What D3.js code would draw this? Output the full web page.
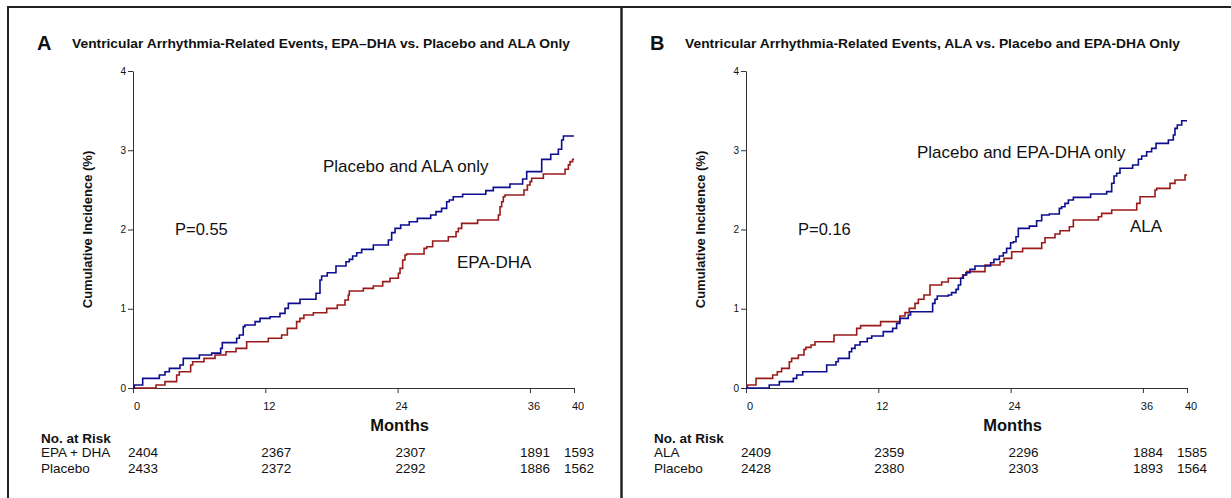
<!DOCTYPE html>
<html><head><meta charset="utf-8">
<script src="https://cdn.jsdelivr.net/npm/d3@7"></script>
<style>
body{margin:0;background:#fff;}
svg{display:block;font-family:"Liberation Sans",Arial,sans-serif;}
</style></head>
<body><svg id="c" width="1231" height="498"></svg>
<script>
// ---------- DATA ----------
const monthTicks = [0, 12, 24, 36, 40];
const incidenceTicks = [0, 1, 2, 3, 4];
const panelLetters = ["A", "B"];
const panelTitles = [
  "Ventricular Arrhythmia-Related Events, EPA\u2013DHA vs. Placebo and ALA Only",
  "Ventricular Arrhythmia-Related Events, ALA vs. Placebo and EPA-DHA Only"
];
const pValues = ["P=0.55", "P=0.16"];
const blueLabels = ["Placebo and ALA only", "Placebo and EPA-DHA only"];
const redLabels = ["EPA-DHA", "ALA"];
const riskGroupsA = ["EPA + DHA", "Placebo"];
const riskGroupsB = ["ALA", "Placebo"];
const riskA_treat = [2404, 2367, 2307, 1891, 1593];
const riskA_plac  = [2433, 2372, 2292, 1886, 1562];
const riskB_treat = [2409, 2359, 2296, 1884, 1585];
const riskB_plac  = [2428, 2380, 2303, 1893, 1564];

// Panel A: placebo and ALA only (blue)
const curveA_placebo = [[0,0],[0.12,0.038],[0.88,0.122],[2.39,0.164],[2.9,0.206],[3.3,0.248],[4.26,0.29],[4.56,0.374],[6.02,0.416],[7.14,0.44],[7.95,0.5],[8.1,0.572],[9.4,0.627],[9.65,0.669],[10.0,0.774],[10.16,0.795],[11.07,0.837],[11.52,0.879],[12.43,0.9],[13.33,0.942],[13.79,1.005],[14.09,1.068],[15.15,1.119],[16.6,1.195],[16.96,1.363],[17.11,1.413],[17.62,1.455],[18.41,1.539],[19.32,1.594],[19.62,1.623],[19.92,1.665],[20.29,1.707],[20.74,1.749],[21.8,1.805],[23.16,1.867],[23.46,1.96],[23.77,2.014],[24.28,2.056],[25.06,2.098],[25.79,2.14],[27.0,2.183],[27.48,2.225],[27.99,2.267],[28.45,2.351],[28.69,2.372],[29.05,2.414],[29.9,2.444],[32.0,2.49],[32.68,2.532],[34.19,2.574],[35.34,2.637],[35.71,2.73],[37.07,2.885],[37.89,2.949],[38.58,3.012],[38.88,3.13],[39.04,3.18],[40.0,3.18]];
// Panel A: EPA-DHA (red)
const curveA_treat = [[0,0],[2.09,0.038],[2.9,0.08],[3.96,0.164],[4.2,0.206],[5.23,0.29],[5.41,0.332],[6.44,0.374],[7.44,0.416],[8.43,0.458],[9.34,0.5],[10.31,0.584],[12.27,0.627],[13.48,0.669],[14.0,0.753],[14.84,0.837],[15.14,0.879],[15.5,0.921],[16.36,0.95],[17.57,1.005],[18.53,1.047],[19.23,1.11],[19.53,1.173],[19.62,1.224],[20.89,1.257],[21.8,1.287],[22.65,1.342],[23.31,1.384],[24.07,1.447],[24.22,1.51],[24.46,1.615],[24.67,1.678],[24.82,1.69],[26.4,1.762],[26.64,1.783],[27.18,1.854],[28.6,1.909],[29.3,1.972],[29.51,2.014],[29.81,2.077],[31.26,2.119],[33.14,2.183],[33.29,2.288],[33.44,2.351],[33.59,2.414],[33.74,2.435],[35.46,2.498],[35.77,2.561],[36.01,2.604],[36.16,2.646],[37.22,2.701],[39.19,2.76],[39.49,2.815],[39.64,2.857],[39.88,2.886],[40.0,2.886]];
// Panel B: placebo and EPA-DHA only (blue)
const curveB_placebo = [[0,0],[2.11,0.038],[3.02,0.08],[4.29,0.122],[4.6,0.164],[5.14,0.206],[7.32,0.29],[8.16,0.332],[8.37,0.374],[9.37,0.458],[9.58,0.5],[9.89,0.542],[10.34,0.584],[11.0,0.627],[11.4,0.656],[12.45,0.711],[13.3,0.753],[13.66,0.816],[13.96,0.879],[14.72,0.921],[14.93,0.963],[16.93,1.068],[17.14,1.119],[17.35,1.161],[18.35,1.174],[18.65,1.203],[19.05,1.245],[19.26,1.3],[19.47,1.384],[19.71,1.426],[19.95,1.455],[20.32,1.497],[20.77,1.539],[22.19,1.581],[22.49,1.623],[22.98,1.665],[23.34,1.707],[23.64,1.762],[24.0,1.833],[24.25,1.846],[24.49,1.909],[24.7,2.014],[25.7,2.043],[26.36,2.111],[26.82,2.183],[27.51,2.195],[28.42,2.267],[28.63,2.288],[28.93,2.33],[29.24,2.372],[29.69,2.406],[31.26,2.448],[32.71,2.478],[33.17,2.583],[33.38,2.675],[33.62,2.709],[33.92,2.772],[35.07,2.814],[35.59,2.886],[35.89,2.928],[36.34,2.982],[36.79,3.024],[37.19,3.087],[38.31,3.129],[38.76,3.192],[38.91,3.276],[39.12,3.318],[39.52,3.373],[40.0,3.373]];
// Panel B: ALA (red)
const curveB_treat = [[0,0],[0.12,0.038],[0.91,0.122],[2.42,0.164],[2.84,0.206],[3.23,0.248],[3.93,0.332],[4.14,0.374],[4.75,0.416],[5.26,0.488],[5.44,0.513],[5.9,0.542],[6.26,0.584],[7.98,0.669],[10.04,0.753],[10.4,0.787],[12.21,0.837],[13.96,0.909],[14.42,0.951],[14.81,1.005],[15.33,1.068],[15.63,1.119],[16.14,1.174],[16.69,1.3],[17.75,1.338],[18.35,1.384],[19.65,1.426],[20.02,1.468],[21.68,1.552],[23.04,1.594],[23.4,1.636],[24.1,1.72],[25.09,1.762],[26.82,1.833],[27.12,1.896],[28.03,1.943],[28.48,1.985],[29.33,2.035],[29.69,2.119],[31.96,2.161],[32.26,2.203],[33.17,2.246],[35.44,2.33],[35.74,2.414],[37.1,2.498],[37.25,2.519],[38.46,2.582],[38.91,2.624],[39.82,2.687],[40.0,2.687]];

// ---------- DRAW ----------
const svg = d3.select("#c");
const BLUE = "#0d0d8f", RED = "#9a1a1a", INK = "#111";

// frame
svg.append("line").attr("x1",7).attr("x2",1231).attr("y1",7).attr("y2",7).attr("stroke","#222").attr("stroke-width",2);
svg.append("line").attr("x1",8).attr("x2",8).attr("y1",6).attr("y2",498).attr("stroke","#222").attr("stroke-width",2);
svg.append("line").attr("x1",621.5).attr("x2",621.5).attr("y1",6).attr("y2",498).attr("stroke","#222").attr("stroke-width",2.5);

const panels = [
  {dx:0, blue:curveA_placebo, red:curveA_treat, groups:riskGroupsA, rows:[riskA_treat, riskA_plac],
   pPos:[175,235], bluePos:[323,172], redPos:[457,268], titleW:498},
  {dx:613, blue:curveB_placebo, red:curveB_treat, groups:riskGroupsB, rows:[riskB_treat, riskB_plac],
   pPos:[185,235], bluePos:[304,158], redPos:[517,232], titleW:495}
];
const riskDx = [10, 11, 13, 5, 5];

panels.forEach((p, i) => {
  const g = svg.append("g").attr("transform", `translate(${p.dx},0)`);
  const x = d3.scaleLinear().domain([0,40]).range([133,574]);
  const y = d3.scaleLinear().domain([0,4]).range([388,71]);

  // title
  g.append("text").attr("x",37).attr("y",50).attr("font-size",20).attr("font-weight","bold").attr("fill",INK).text(panelLetters[i]);
  g.append("text").attr("x",72).attr("y",47.5).attr("font-size",13).attr("font-weight","bold").attr("fill",INK)
    .attr("textLength",p.titleW).attr("lengthAdjust","spacingAndGlyphs").text(panelTitles[i]);

  // axes
  const ya = g.append("g").attr("transform","translate(133,0)")
    .call(d3.axisLeft(y).tickValues(incidenceTicks).tickFormat(d3.format("d")).tickSize(5).tickSizeOuter(0).tickPadding(2));
  ya.selectAll("text").attr("font-size",10).attr("fill",INK).attr("font-family","Liberation Sans, Arial, sans-serif");
  const xa = g.append("g").attr("transform","translate(0,388)")
    .call(d3.axisBottom(x).tickValues(monthTicks).tickFormat(d3.format("d")).tickSize(5).tickSizeOuter(0).tickPadding(9));
  xa.selectAll("text").attr("font-size",11).attr("fill",INK).attr("dx",3.5).attr("font-family","Liberation Sans, Arial, sans-serif");
  g.selectAll(".domain, .tick line").attr("stroke","#333");

  // axis titles
  g.append("text").attr("transform",`translate(${87+5},${(71+388)/2}) rotate(-90)`).attr("text-anchor","middle")
    .attr("font-size",13).attr("font-weight","bold").attr("fill",INK).text("Cumulative Incidence (%)");
  g.append("text").attr("x",x(24)+2).attr("y",431).attr("text-anchor","middle")
    .attr("font-size",16.5).attr("font-weight","bold").attr("fill",INK).text("Months");

  // curves
  const line = d3.line().x(d=>x(d[0])).y(d=>y(d[1])).curve(d3.curveStepAfter);
  g.append("path").datum(p.red).attr("d",line).attr("fill","none").attr("stroke",RED).attr("stroke-width",1.6);
  g.append("path").datum(p.blue).attr("d",line).attr("fill","none").attr("stroke",BLUE).attr("stroke-width",1.6);

  // annotations
  g.append("text").attr("x",p.pPos[0]).attr("y",p.pPos[1]).attr("font-size",16.5).attr("fill",INK).text(pValues[i]);
  g.append("text").attr("x",p.bluePos[0]).attr("y",p.bluePos[1]).attr("font-size",17).attr("fill",INK).text(blueLabels[i]);
  g.append("text").attr("x",p.redPos[0]).attr("y",p.redPos[1]).attr("font-size",17).attr("fill",INK).text(redLabels[i]);

  // at risk table
  g.append("text").attr("x",41).attr("y",443).attr("font-size",13.5).attr("font-weight","bold").attr("fill",INK).text("No. at Risk");
  p.groups.forEach((name, r) => {
    const by = 457 + r*16;
    g.append("text").attr("x",41).attr("y",by).attr("font-size",13.5).attr("fill",INK).text(name);
    g.selectAll(null).data(p.rows[r]).enter().append("text")
      .attr("x",(d,k)=>x(monthTicks[k])+riskDx[k]).attr("y",by).attr("text-anchor","middle")
      .attr("font-size",13.5).attr("fill",INK).text(d=>d);
  });
});
</script></body></html>
